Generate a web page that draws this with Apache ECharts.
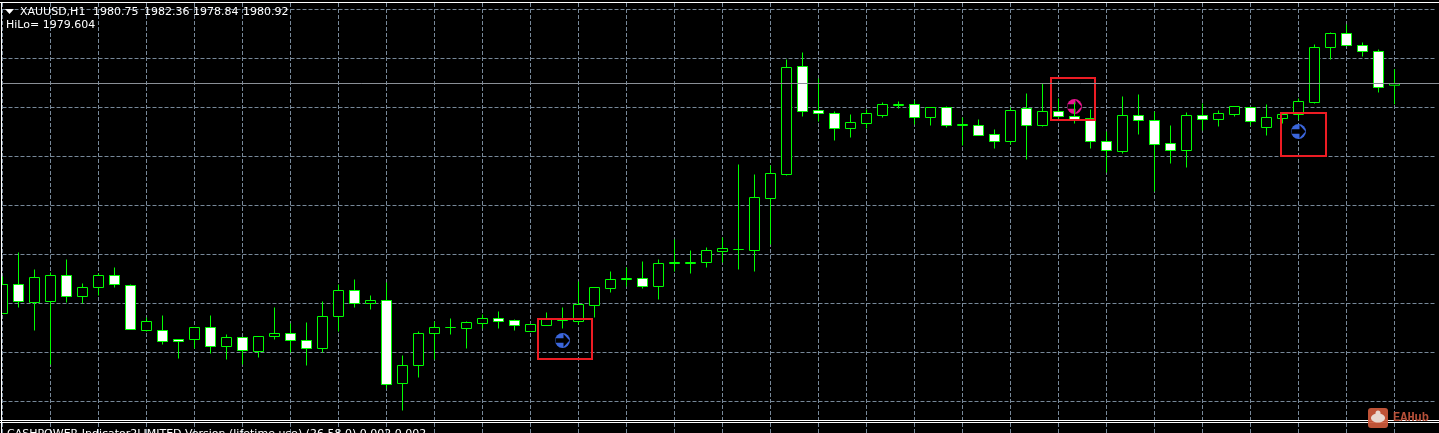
<!DOCTYPE html>
<html><head><meta charset="utf-8">
<style>html,body{margin:0;padding:0;background:#000;overflow:hidden}#c{width:1439px;height:433px}</style>
<script src="https://cdn.jsdelivr.net/npm/echarts@6/dist/echarts.min.js"></script>
</head><body><div id="c"></div>
<script>
const opens=[1957.92,1960.82,1959.02,1959.12,1961.72,1959.62,1960.52,1961.72,1960.72,1956.22,1956.22,1955.32,1955.32,1956.52,1954.62,1955.52,1954.12,1955.62,1955.92,1955.22,1954.42,1957.62,1960.22,1958.92,1959.22,1950.92,1952.72,1955.92,1956.52,1956.42,1956.92,1957.42,1957.22,1956.12,1956.72,1957.22,1957.12,1958.72,1960.42,1961.32,1961.42,1960.62,1962.92,1962.92,1963.02,1964.12,1964.32,1964.22,1969.42,1971.82,1982.62,1978.22,1977.92,1976.42,1976.92,1977.72,1978.72,1978.82,1977.52,1978.52,1976.72,1976.72,1975.82,1975.12,1978.42,1976.72,1978.12,1977.62,1977.42,1975.12,1974.12,1977.72,1977.22,1974.92,1974.22,1977.72,1977.32,1977.82,1978.52,1976.52,1977.42,1977.82,1979.02,1984.52,1985.92,1984.72,1984.12,1980.75];
const closes=[1960.82,1959.12,1961.52,1961.72,1959.62,1960.52,1961.72,1960.82,1956.32,1957.12,1955.12,1955.12,1956.52,1954.62,1955.52,1954.22,1955.62,1955.92,1955.22,1954.42,1957.62,1960.22,1958.92,1959.22,1950.82,1952.72,1955.92,1956.52,1956.52,1957.02,1957.42,1957.12,1956.72,1956.82,1957.32,1957.32,1958.82,1960.52,1961.32,1961.42,1960.62,1962.92,1963.02,1963.02,1964.22,1964.42,1964.32,1969.52,1971.92,1982.52,1978.12,1977.92,1976.42,1977.02,1977.92,1978.82,1978.82,1977.52,1978.52,1976.72,1976.82,1975.72,1975.12,1978.22,1976.72,1978.12,1977.62,1977.32,1975.12,1974.22,1977.72,1977.22,1974.82,1974.22,1977.72,1977.32,1977.92,1978.62,1977.12,1977.52,1977.82,1979.12,1984.52,1985.92,1984.72,1984.12,1980.52,1980.92];
const highs=[1961.62,1964.02,1962.32,1962.02,1963.32,1960.92,1961.92,1962.52,1960.82,1957.52,1957.72,1955.32,1956.52,1957.72,1955.82,1955.52,1955.62,1958.52,1956.92,1957.02,1959.12,1960.82,1961.32,1959.72,1961.02,1953.72,1956.12,1957.12,1957.42,1957.12,1957.82,1958.12,1957.32,1956.82,1958.02,1958.52,1961.12,1960.52,1962.12,1962.52,1963.12,1963.32,1965.32,1964.22,1964.52,1965.52,1972.82,1971.82,1972.72,1983.32,1984.02,1981.42,1978.12,1977.82,1978.32,1979.02,1979.12,1979.22,1978.52,1978.62,1977.52,1977.32,1976.32,1978.52,1979.92,1980.92,1979.42,1979.02,1978.32,1976.12,1979.62,1979.82,1978.12,1976.72,1978.02,1978.92,1978.22,1978.62,1978.52,1978.82,1977.92,1979.42,1984.82,1986.02,1986.82,1985.02,1984.32,1982.36];
const lows=[1957.92,1958.52,1956.22,1952.82,1959.02,1958.92,1959.72,1960.52,1956.32,1956.12,1954.82,1953.42,1954.42,1953.92,1953.32,1952.82,1953.52,1955.32,1954.02,1952.72,1954.02,1956.12,1958.52,1958.32,1950.42,1948.22,1951.52,1953.32,1955.82,1954.42,1956.42,1956.42,1956.22,1956.12,1956.72,1956.42,1956.82,1957.52,1960.02,1960.62,1960.42,1959.32,1962.12,1961.92,1962.52,1963.02,1962.32,1962.12,1964.82,1971.72,1977.62,1977.12,1975.22,1975.52,1976.42,1977.52,1978.42,1976.82,1976.72,1976.52,1974.72,1975.72,1974.42,1974.82,1973.32,1976.62,1977.42,1976.92,1974.42,1972.02,1973.92,1975.82,1970.12,1972.92,1972.52,1976.22,1976.62,1977.62,1976.72,1975.72,1976.92,1977.32,1978.92,1983.32,1984.72,1983.62,1980.02,1978.84];
const categories=Array.from({length:91},(_,i)=>'H'+i);
const gridLevels=[1988.32,1983.42,1978.52,1973.62,1968.72,1963.82,1958.92,1954.02,1949.12];
const bidPrice=1980.92;
const blueSignals=[[35,1955.22],[81,1976.12]];
const pinkSignals=[[67,1978.62]];
const signalBoxes=[[33.44,1957.42,36.86,1953.35],[65.56,1981.45,68.31,1977.25],[79.88,1978.02,82.69,1973.72]];
const quoteNumbers=['1980.75','1982.36','1978.84','1980.92'];

const FONT='"DejaVu Sans"';
const gText=(x,y,t)=>({type:'text',x,y,z:60,silent:true,style:{text:t,fill:'#fff',font:'11px '+FONT,textVerticalAlign:'top'}});
const gRect=(x,y,w,h,f,z)=>({type:'rect',silent:true,z:z||40,shape:{x,y,width:w,height:h},style:{fill:f}});
const arrow='path://M0 5H8V1L14 7L8 13V9H0Z';

const chart=echarts.init(document.getElementById('c'),null,{renderer:'canvas'});
chart.setOption({
  animation:false,backgroundColor:'#000',
  grid:{left:2.5,top:3,width:1440,height:430,containLabel:false,show:false,outerBoundsMode:'none'},
  xAxis:[
    {type:'category',data:categories,boundaryGap:false,axisLine:{show:false},axisTick:{show:false},axisLabel:{show:false},
     splitLine:{show:true,interval:2,lineStyle:{color:'#778899',width:1,type:[4,2]}}},
    {type:'value',min:0,max:90,show:false,splitLine:{show:false}}
  ],
  yAxis:{type:'value',min:1945.97,max:1988.97,scale:true,axisLine:{show:false},axisLabel:{show:false},
     axisTick:{show:false,customValues:gridLevels},
     splitLine:{show:true,lineStyle:{color:'#778899',width:1,type:[4,2]}}},
  series:[
    {type:'scatter',name:'bid',z:1,data:[],silent:true,
     markLine:{silent:true,symbol:'none',label:{show:false},animation:false,
       lineStyle:{color:'#8a8f96',width:1,type:'solid'},data:[{yAxis:bidPrice}]}},
    {type:'scatter',name:'sellCircle',z:2,symbol:'circle',symbolSize:15,silent:true,itemStyle:{color:'#e8158f',opacity:1},data:pinkSignals},
    {type:'scatter',name:'buyCircle',z:2,symbol:'circle',symbolSize:15,silent:true,itemStyle:{color:'#3b66dc',opacity:1},data:blueSignals},
    {type:'scatter',name:'arrows',z:2.5,symbol:arrow,symbolSize:[14,13],silent:true,itemStyle:{color:'#000',opacity:1},data:blueSignals.concat(pinkSignals)},
    {type:'candlestick',name:'XAUUSD,H1',z:3,clip:false,barWidth:10,silent:true,
     itemStyle:{color:'#000',color0:'#fff',borderColor:'#00ff00',borderColor0:'#00ff00',borderWidth:1},
     data:opens.map((o,i)=>[o,closes[i],lows[i],highs[i]])},
    {type:'custom',name:'boxes',z:4,xAxisIndex:1,silent:true,clip:false,data:signalBoxes,
     renderItem:(p,api)=>{
       const a=api.coord([api.value(0),api.value(1)]),b=api.coord([api.value(2),api.value(3)]);
       const x=Math.round(a[0]),y=Math.round(a[1]);
       return {type:'rect',shape:{x,y,width:Math.round(b[0])-x,height:Math.round(b[1])-y},style:{fill:'none',stroke:'#ed1c24',lineWidth:2}};
     }}
  ],
  graphic:[
    gRect(1435,3,4,417,'#000',1),
    gRect(0,0,1,433,'#000',30),
    gRect(0,2,1439,1,'#fff'),
    gRect(1,2,1,431,'#fff'),
    gRect(0,420,1439,1,'#fff'),
    gRect(0,422,1439,1,'#fff'),
    gRect(1,421,1438,1,'#000',39),
    gRect(1438,423,1,10,'#000',1),
    {type:'polygon',silent:true,z:60,shape:{points:[[5,9],[14,9],[9.5,14]]},style:{fill:'#fff'}},
    gText(20,7,'XAUUSD,H1'),
    gText(93,7,quoteNumbers[0]),gText(144,7,quoteNumbers[1]),gText(193,7,quoteNumbers[2]),gText(243,7,quoteNumbers[3]),
    gText(6,20,'HiLo= 1979.604'),
    gText(7,429,'CASHPOWER Indicator2LIMITED Version (lifetime use) (26,58,0) 0.002 0.002'),
    {type:'rect',silent:true,z:61,shape:{x:1368,y:408,width:20,height:20,r:3},style:{fill:'#cf5a3c',opacity:.92}},
    {type:'ellipse',silent:true,z:62,shape:{cx:1378,cy:418,rx:7,ry:4.5},style:{fill:'#e8d8d0'}},
    {type:'circle',silent:true,z:62,shape:{cx:1378,cy:413,r:2.5},style:{fill:'#e8d8d0'}},
    {type:'text',silent:true,z:61,x:1393,y:412,style:{text:'EAHub',fill:'#c0543c',font:'bold 12px "Liberation Mono"',textVerticalAlign:'top',opacity:.95}}
  ]
});
</script></body></html>
